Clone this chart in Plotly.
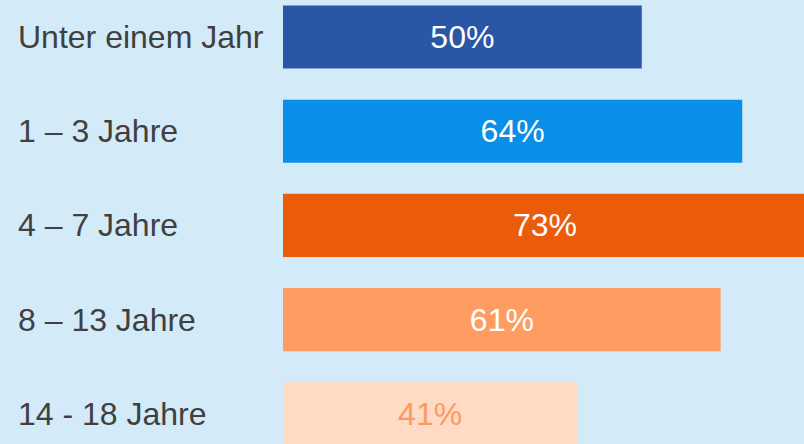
import plotly.graph_objects as go

categories = ["Unter einem Jahr", "1 – 3 Jahre", "4 – 7 Jahre", "8 – 13 Jahre", "14 - 18 Jahre"]
values = [50, 64, 73, 61, 41]
bar_colors = ["#2A57A5", "#0A8FE9", "#EA5B0A", "#FE9D62", "#FFDBC6"]
text_colors = ["#FFFFFF", "#FFFFFF", "#FFFFFF", "#FFFFFF", "#FB9A5E"]

W, H = 804, 444
left = 283
FONT = "Liberation Sans, Arial, sans-serif"
fig = go.Figure(go.Bar(
    x=values,
    y=list(range(len(categories))),
    orientation="h",
    marker=dict(color=bar_colors, line=dict(width=0)),
    width=0.67,
    text=[f"{v}%" for v in values],
    textposition="inside",
    insidetextanchor="middle",
    textfont=dict(size=32, color=text_colors, family=FONT),
    constraintext="none",
    cliponaxis=True,
    hoverinfo="skip",
))

for i, c in enumerate(categories):
    fig.add_annotation(
        x=(16 - left) / (W - left), xref="paper", xanchor="left",
        y=i, yref="y", yanchor="middle",
        text=c, showarrow=False,
        font=dict(size=32, color="#404040", family=FONT),
    )

fig.update_layout(
    width=W, height=H,
    margin=dict(l=left, r=0, t=0, b=0),
    paper_bgcolor="#D3EAF8",
    plot_bgcolor="#D3EAF8",
    showlegend=False,
    xaxis=dict(range=[0, 72.61], visible=False, fixedrange=True),
    yaxis=dict(range=[4.321, -0.393], visible=False, fixedrange=True),
)

fig.write_html("out.html", config={"displayModeBar": False})
